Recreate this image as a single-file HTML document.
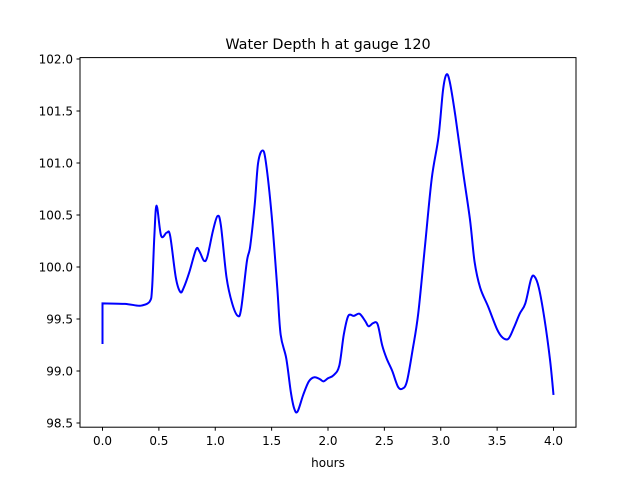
<!DOCTYPE html>
<html><head><meta charset="utf-8"><style>
body{margin:0;background:#fff}
svg{display:block;font-family:"DejaVu Sans","Liberation Sans",sans-serif}
</style></head><body>
<svg width="640" height="480" id="c">
<rect width="640" height="480" fill="#fff"/>
<text x="328" y="49" font-size="14.4" text-anchor="middle">Water Depth h at gauge 120</text>
<g id="ticks"></g>
<path id="line" fill="none" stroke="#0000ff" stroke-width="2"/>
<rect x="80" y="57.6" width="496" height="369.6" fill="none" stroke="#000" stroke-width="1"/>
<text x="328" y="467" font-size="12" text-anchor="middle">hours</text>
</svg>
<script>
const times=[0,0,0.2,0.3,0.35,0.42,0.44,0.46,0.48,0.52,0.57,0.6,0.65,0.69,0.72,0.77,0.83,0.86,0.9,0.93,0.98,1.02,1.05,1.1,1.15,1.2,1.23,1.28,1.31,1.35,1.38,1.42,1.45,1.5,1.55,1.58,1.63,1.67,1.7,1.73,1.78,1.83,1.88,1.93,1.96,2.0,2.05,2.1,2.14,2.18,2.23,2.28,2.33,2.36,2.4,2.44,2.48,2.52,2.57,2.62,2.66,2.7,2.75,2.8,2.86,2.92,2.98,3.02,3.05,3.08,3.13,3.2,3.26,3.3,3.35,3.42,3.5,3.55,3.6,3.65,3.7,3.75,3.8,3.83,3.87,3.92,3.97,4.0];
const depth=[99.26,99.65,99.645,99.63,99.63,99.67,99.8,100.3,100.59,100.3,100.33,100.3,99.9,99.76,99.8,99.95,100.17,100.15,100.06,100.1,100.35,100.49,100.4,99.9,99.65,99.53,99.6,100.05,100.2,100.6,101.0,101.12,101.0,100.5,99.8,99.35,99.12,98.8,98.64,98.61,98.77,98.9,98.94,98.92,98.9,98.93,98.96,99.05,99.35,99.53,99.53,99.55,99.48,99.43,99.46,99.45,99.25,99.12,99.0,98.85,98.83,98.9,99.2,99.55,100.2,100.85,101.25,101.7,101.85,101.78,101.45,100.9,100.45,100.05,99.8,99.62,99.4,99.32,99.31,99.42,99.55,99.65,99.88,99.91,99.8,99.5,99.1,98.77];
const xTicks=[0.0,0.5,1.0,1.5,2.0,2.5,3.0,3.5,4.0];
const yTicks=[98.5,99.0,99.5,100.0,100.5,101.0,101.5,102.0];
const X=t=>102.5+t*112.75, Y=v=>59+(102-v)*104;
const NS="http://www.w3.org/2000/svg", g=document.getElementById('ticks');
function mk(tag,attrs,txt){const e=document.createElementNS(NS,tag);for(const k in attrs)e.setAttribute(k,attrs[k]);if(txt!==undefined)e.textContent=txt;g.appendChild(e);return e;}
xTicks.forEach(t=>{const x=X(t);
 const l=mk('line',{x1:x,x2:x,y1:427.2,y2:430.7,stroke:'#000'});
 
 
 const s=mk('text',{x:x,y:445,'font-size':12,'text-anchor':'middle'},t.toFixed(1));
 
 
});
yTicks.forEach(v=>{const y=Y(v);
 const l=mk('line',{x1:76.5,x2:80,y1:y,y2:y,stroke:'#000'});
 
 
 const s=mk('text',{x:73,y:y+4.5,'font-size':12,'text-anchor':'end'},v.toFixed(1));
 
 
});
const P=times.map((t,i)=>[X(t),Y(depth[i])]);
let d='M'+P[0][0]+','+P[0][1]+' L'+P[1][0]+','+P[1][1];
for(let i=1;i<P.length-1;i++){
 const p0=P[Math.max(i-1,1)],p1=P[i],p2=P[i+1],p3=P[Math.min(i+2,P.length-1)];
 const c1=[p1[0]+(p2[0]-p0[0])/6,p1[1]+(p2[1]-p0[1])/6],c2=[p2[0]-(p3[0]-p1[0])/6,p2[1]-(p3[1]-p1[1])/6];
 d+=' C'+c1+' '+c2+' '+p2;
}
document.getElementById('line').setAttribute('d',d);
</script>
</body></html>
